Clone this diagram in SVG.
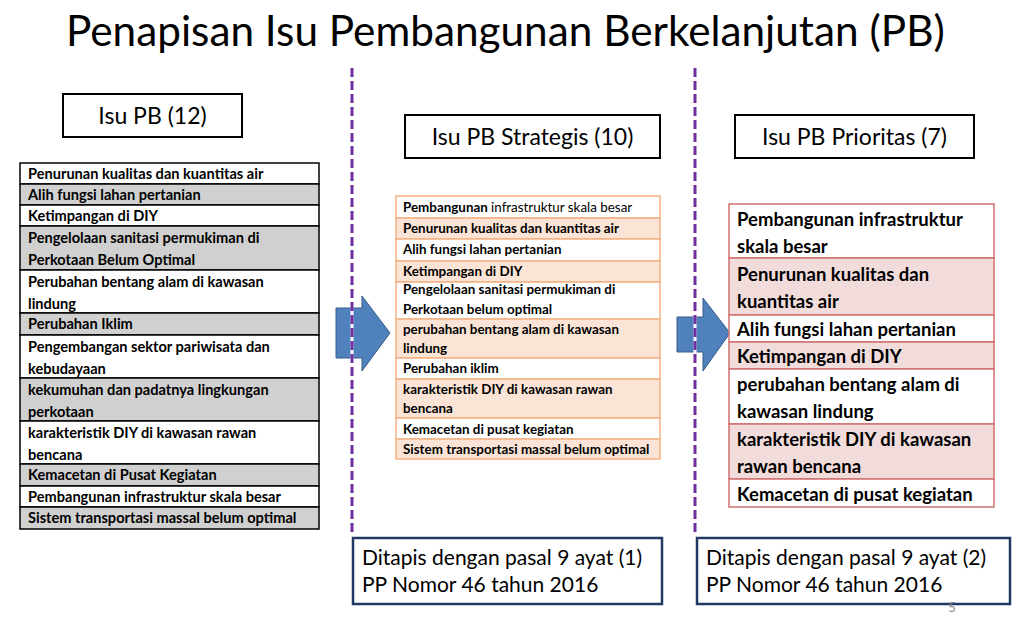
<svg xmlns="http://www.w3.org/2000/svg" width="1019" height="640" viewBox="0 0 1019 640">
<style>
text{font-family:Lato,"Open Sans","Liberation Sans",sans-serif;fill:#000}
.title{font-size:42.3px}
.hdr{font-size:23px;text-anchor:middle}
.hbox{fill:#fff;stroke:#000;stroke-width:2}
.lt{font-size:14.6px;font-weight:bold}
.mt{font-size:13.4px;font-weight:bold}
.rt{font-size:18.5px;font-weight:bold}
.bt{font-size:21px}
.lw{fill:#fff;stroke:#000;stroke-width:1.5}
.lg{fill:#D0D0D0;stroke:#000;stroke-width:1.5}
.mw{fill:#fff;stroke:#F4B183;stroke-width:1.5}
.mp{fill:#FBE4D5;stroke:#F4B183;stroke-width:1.5}
.rw{fill:#fff;stroke:#D07070;stroke-width:1.5}
.rp{fill:#F2DCDB;stroke:#D07070;stroke-width:1.5}
.arrow{fill:#4F81BD;stroke:#385D8A;stroke-width:1}
.dash{stroke:#7030A0;stroke-width:3;stroke-dasharray:9 4;fill:none}
.under{stroke:#fff;stroke-width:3;fill:none}
.bbox{fill:#fff;stroke:#1F3864;stroke-width:2.5}
</style>
<rect width="1019" height="640" fill="#fff"/>
<text class="title" x="66" y="46" id="title">Penapisan Isu Pembangunan Berkelanjutan (PB)</text>

<g id="connectors">
<polygon id="arrow1" class="arrow" points="336,308 362,308 362,296 390,333 362,371 362,358 336,358"/>
<polygon id="arrow2" class="arrow" points="677,317 703,317 703,298 730,333 703,371 703,352 677,352"/>
<line class="under" x1="352" y1="68" x2="352" y2="536"/>
<line class="dash" x1="352" y1="68" x2="352" y2="536"/>
<line class="under" x1="695" y1="68" x2="695" y2="536"/>
<line class="dash" x1="695" y1="68" x2="695" y2="536"/>
</g>

<g id="hdr1"><rect class="hbox" x="63" y="94" width="179" height="43"/><text class="hdr" x="152.5" y="123.5">Isu PB (12)</text></g>
<g id="hdr2"><rect class="hbox" x="405" y="115" width="255" height="43"/><text class="hdr" x="532.5" y="144.5">Isu PB Strategis (10)</text></g>
<g id="hdr3"><rect class="hbox" x="735" y="115" width="239" height="43"/><text class="hdr" x="854.5" y="144.5">Isu PB Prioritas (7)</text></g>

<g id="table1">
<rect class="lw" x="20" y="163" width="299" height="21"/><text class="lt" x="28" y="179">Penurunan kualitas dan kuantitas air</text>
<rect class="lg" x="20" y="184" width="299" height="21"/><text class="lt" x="28" y="200">Alih fungsi lahan pertanian</text>
<rect class="lw" x="20" y="205" width="299" height="21"/><text class="lt" x="28" y="221">Ketimpangan di DIY</text>
<rect class="lg" x="20" y="226" width="299" height="44"/><text class="lt" x="28" y="243">Pengelolaan sanitasi permukiman di</text><text class="lt" x="28" y="265">Perkotaan Belum Optimal</text>
<rect class="lw" x="20" y="270" width="299" height="43"/><text class="lt" x="28" y="287">Perubahan bentang alam di kawasan</text><text class="lt" x="28" y="309">lindung</text>
<rect class="lg" x="20" y="313" width="299" height="22"/><text class="lt" x="28" y="329">Perubahan Iklim</text>
<rect class="lw" x="20" y="335" width="299" height="43"/><text class="lt" x="28" y="352">Pengembangan sektor pariwisata dan</text><text class="lt" x="28" y="374">kebudayaan</text>
<rect class="lg" x="20" y="378" width="299" height="43"/><text class="lt" x="28" y="395">kekumuhan dan padatnya lingkungan</text><text class="lt" x="28" y="417">perkotaan</text>
<rect class="lw" x="20" y="421" width="299" height="43"/><text class="lt" x="28" y="438">karakteristik DIY di kawasan rawan</text><text class="lt" x="28" y="460">bencana</text>
<rect class="lg" x="20" y="464" width="299" height="22"/><text class="lt" x="28" y="480">Kemacetan di Pusat Kegiatan</text>
<rect class="lw" x="20" y="486" width="299" height="21"/><text class="lt" x="28" y="502">Pembangunan infrastruktur skala besar</text>
<rect class="lg" x="20" y="507" width="299" height="22"/><text class="lt" x="28" y="523">Sistem transportasi massal belum optimal</text>
</g>

<g id="table2">
<rect class="mw" x="396" y="196" width="264" height="22"/><text class="mt" x="403" y="211.5">Pembangunan <tspan font-weight="normal">infrastruktur skala besar</tspan></text>
<rect class="mp" x="396" y="218" width="264" height="21"/><text class="mt" x="403" y="233">Penurunan kualitas dan kuantitas air</text>
<rect class="mw" x="396" y="239" width="264" height="22"/><text class="mt" x="403" y="254">Alih fungsi lahan pertanian</text>
<rect class="mp" x="396" y="261" width="264" height="21"/><text class="mt" x="403" y="275.5">Ketimpangan di DIY</text>
<rect class="mw" x="396" y="282" width="264" height="37"/><text class="mt" x="403" y="294">Pengelolaan sanitasi permukiman di</text><text class="mt" x="403" y="313.5">Perkotaan belum optimal</text>
<rect class="mp" x="396" y="319" width="264" height="39"/><text class="mt" x="403" y="334">perubahan bentang alam di kawasan</text><text class="mt" x="403" y="353">lindung</text>
<rect class="mw" x="396" y="358" width="264" height="21"/><text class="mt" x="403" y="373">Perubahan iklim</text>
<rect class="mp" x="396" y="379" width="264" height="39"/><text class="mt" x="403" y="394">karakteristik DIY di kawasan rawan</text><text class="mt" x="403" y="413">bencana</text>
<rect class="mw" x="396" y="418" width="264" height="21"/><text class="mt" x="403" y="433.5">Kemacetan di pusat kegiatan</text>
<rect class="mp" x="396" y="439" width="264" height="20"/><text class="mt" x="403" y="454">Sistem transportasi massal belum optimal</text>
</g>

<g id="table3">
<rect class="rw" x="729" y="204" width="265" height="54"/><text class="rt" x="737" y="225.5">Pembangunan infrastruktur</text><text class="rt" x="737" y="252.5">skala besar</text>
<rect class="rp" x="729" y="258" width="265" height="57"/><text class="rt" x="737" y="280.5">Penurunan kualitas dan</text><text class="rt" x="737" y="307.5">kuantitas air</text>
<rect class="rw" x="729" y="315" width="265" height="27"/><text class="rt" x="737" y="335.5">Alih fungsi lahan pertanian</text>
<rect class="rp" x="729" y="342" width="265" height="27"/><text class="rt" x="737" y="362.5">Ketimpangan di DIY</text>
<rect class="rw" x="729" y="369" width="265" height="55"/><text class="rt" x="737" y="390.5">perubahan bentang alam di</text><text class="rt" x="737" y="417.5">kawasan lindung</text>
<rect class="rp" x="729" y="424" width="265" height="55"/><text class="rt" x="737" y="445.5">karakteristik DIY di kawasan</text><text class="rt" x="737" y="472.5">rawan bencana</text>
<rect class="rw" x="729" y="479" width="265" height="28"/><text class="rt" x="737" y="500.5">Kemacetan di pusat kegiatan</text>
</g>

<g id="note1"><rect class="bbox" x="353" y="538" width="309" height="66"/><text class="bt" x="362" y="564.5">Ditapis dengan pasal 9 ayat (1)</text><text class="bt" x="362" y="591.5">PP Nomor 46 tahun 2016</text></g>
<g id="note2"><rect class="bbox" x="697" y="538" width="313" height="66"/><text class="bt" x="706" y="564.5">Ditapis dengan pasal 9 ayat (2)</text><text class="bt" x="706" y="591.5">PP Nomor 46 tahun 2016</text></g>
<text x="952" y="612" font-size="13" style="fill:#8C8C8C" text-anchor="middle">5</text>
</svg>
